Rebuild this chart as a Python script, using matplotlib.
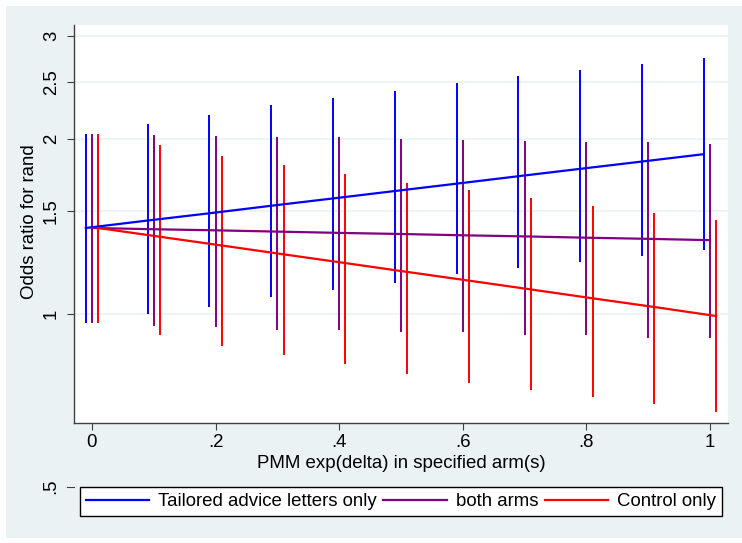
import matplotlib
matplotlib.use("Agg")
import matplotlib.pyplot as plt
from matplotlib.patches import Rectangle
from matplotlib.lines import Line2D
from matplotlib.ticker import NullLocator, FixedLocator

plt.rcParams['font.family'] = ['Liberation Sans', 'DejaVu Sans']

# ---- data ----
delta = [0.0, 0.1, 0.2, 0.3, 0.4, 0.5, 0.6, 0.7, 0.8, 0.9, 1.0]

or_tailored = [1.405, 1.447, 1.489, 1.534, 1.579, 1.626, 1.674, 1.724, 1.775, 1.827, 1.881]
lo_tailored = [0.965, 1.00, 1.03, 1.07, 1.10, 1.13, 1.17, 1.20, 1.23, 1.26, 1.29]
hi_tailored = [2.04, 2.12, 2.20, 2.28, 2.35, 2.41, 2.49, 2.56, 2.62, 2.69, 2.75]

or_both = [1.405, 1.398, 1.392, 1.385, 1.378, 1.372, 1.365, 1.359, 1.352, 1.346, 1.339]
lo_both = [0.965, 0.954, 0.95, 0.94, 0.94, 0.93, 0.93, 0.92, 0.92, 0.91, 0.91]
hi_both = [2.04, 2.03, 2.02, 2.01, 2.01, 2.00, 1.99, 1.98, 1.97, 1.97, 1.96]

or_control = [1.405, 1.357, 1.311, 1.266, 1.223, 1.181, 1.141, 1.102, 1.064, 1.028, 0.992]
lo_control = [0.965, 0.92, 0.88, 0.85, 0.82, 0.79, 0.76, 0.74, 0.72, 0.70, 0.68]
hi_control = [2.04, 1.95, 1.87, 1.80, 1.74, 1.68, 1.63, 1.58, 1.53, 1.49, 1.45]

series_labels = ["Tailored advice letters only", "both arms", "Control only"]
series_colors = ["#0000FF", "#800080", "#FF0000"]
offsets = [-0.01, 0.0, 0.01]

xticks = [0, 0.2, 0.4, 0.6, 0.8, 1.0]
xtick_labels = ["0", ".2", ".4", ".6", ".8", "1"]
yticks = [1, 1.5, 2, 2.5, 3]
ytick_labels = ["1", "1.5", "2", "2.5", "3"]

W, H = 742, 543
fig = plt.figure(figsize=(W / 100, H / 100), dpi=100, facecolor="white")
bg = "#EAF2F3"
fig.patches.append(Rectangle((6 / W, 5 / H), 1 - 6 / W, 1 - 11 / H,
                             transform=fig.transFigure, facecolor=bg,
                             edgecolor="none", zorder=-10))

ax = fig.add_axes([74 / W, 1 - 423 / H, (728 - 74) / W, (423 - 25) / H])
ax.set_facecolor("white")
ax.set_yscale("log")
ax.set_xlim(-0.0291, 1.0291)
ax.set_ylim(0.650, 3.134)

series = [(or_tailored, lo_tailored, hi_tailored),
          (or_both, lo_both, hi_both),
          (or_control, lo_control, hi_control)]

handles = []
for (est, lo, hi), col, off, lab in zip(series, series_colors, offsets, series_labels):
    xs = [d + off for d in delta]
    ax.vlines(xs, lo, hi, colors=col, linewidth=1.4, zorder=3)
for (est, lo, hi), col, off, lab in zip(series, series_colors, offsets, series_labels):
    xs = [d + off for d in delta]
    h, = ax.plot(xs, est, color=col, linewidth=1.6, zorder=4, label=lab)
    handles.append(h)

ax.yaxis.set_major_locator(FixedLocator(yticks))
ax.yaxis.set_minor_locator(NullLocator())
ax.set_yticklabels(ytick_labels)
ax.set_xticks(xticks)
ax.set_xticklabels(xtick_labels)
ax.grid(axis="y", color=bg, linewidth=1.2, zorder=0)
ax.set_axisbelow(True)

for s in ["top", "right"]:
    ax.spines[s].set_visible(False)
for s in ["left", "bottom"]:
    ax.spines[s].set_color("#404040")
    ax.spines[s].set_linewidth(1.0)

fs = 13.4
ax.tick_params(axis="both", direction="out", length=5, width=0.8,
               color="#404040", labelsize=fs)
ax.tick_params(axis="x", pad=3)
ax.tick_params(axis="y", pad=5, labelrotation=90)
for lbl in ax.get_yticklabels():
    lbl.set_va("center")

ax.set_xlabel("PMM exp(delta) in specified arm(s)", fontsize=fs, labelpad=3)
fig.text(30 / W, 1 - 222 / H, "Odds ratio for rand", rotation=90,
         ha="center", va="center", fontsize=fs)

# stray ".5" tick below the plot region
fig.text(51 / W, 1 - 486 / H, ".5", rotation=90, ha="center", va="center", fontsize=fs)
fig.add_artist(Line2D([67 / W, 74 / W], [1 - 487 / H, 1 - 487 / H],
                      transform=fig.transFigure, color="#404040", linewidth=0.8))

leg = fig.legend(handles=handles, labels=series_labels, ncol=3,
                 loc="center", bbox_to_anchor=(80 / W, 1 - 519 / H, 642 / W, 35 / H),
                 mode="expand", fontsize=fs, frameon=True, fancybox=False,
                 edgecolor="black", framealpha=1, handlelength=3.4,
                 handletextpad=0.5, columnspacing=0.3, borderpad=0.3,
                 borderaxespad=0)
leg.get_frame().set_linewidth(1.0)

fig.savefig("out.png", dpi=100, facecolor="white")
